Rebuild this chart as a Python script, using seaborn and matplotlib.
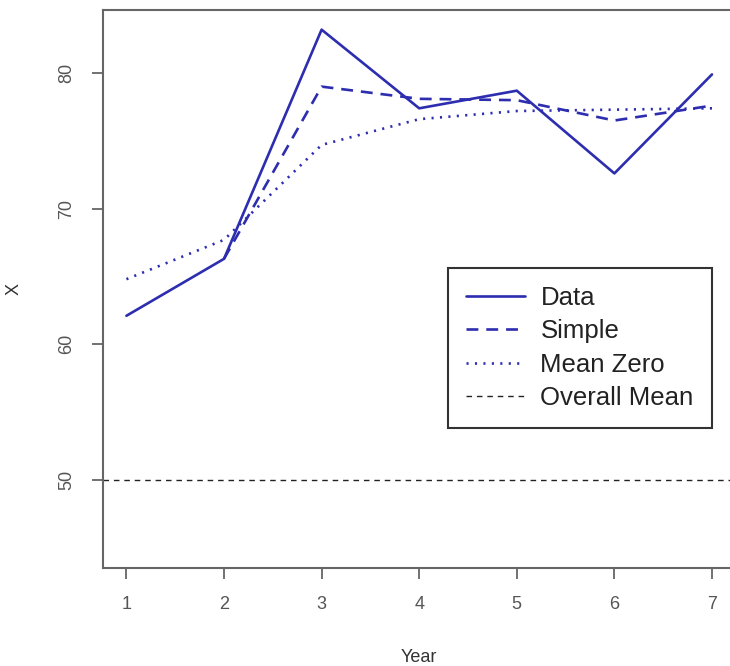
import numpy as np
import pandas as pd
import matplotlib
matplotlib.use("Agg")
import matplotlib.pyplot as plt
import seaborn as sns

# values
year = [1, 2, 3, 4, 5, 6, 7]
data = [62.1, 66.3, 83.2, 77.4, 78.7, 72.6, 79.9]
simple = [np.nan, 66.3, 79.0, 78.1, 78.0, 76.5, 77.6]
mean_zero = [64.8, 67.7, 74.7, 76.6, 77.2, 77.3, 77.4]
overall_mean = 50

df = pd.DataFrame({"Year": year, "Data": data, "Simple": simple, "Mean Zero": mean_zero})

sns.set_style("ticks")
plt.rcParams["font.family"] = ["Liberation Sans", "DejaVu Sans"]

blue = "#2d2db0"
fig = plt.figure(figsize=(7.3, 6.66), dpi=100)
# axes box runs past the right edge, as in the cropped original
ax = fig.add_axes([103 / 730, 98 / 666, 632.4 / 730, 558 / 666])

sns.lineplot(data=df, x="Year", y="Data", ax=ax, color=blue, linewidth=1.9,
             label="Data")
sns.lineplot(data=df, x="Year", y="Simple", ax=ax, color=blue, linewidth=1.9,
             linestyle=(0, (4.5, 3)), label="Simple")
sns.lineplot(data=df, x="Year", y="Mean Zero", ax=ax, color=blue, linewidth=1.9,
             linestyle=(0, (0.8, 2.4)), label="Mean Zero")
ax.axhline(overall_mean, color="#222222", linewidth=1.0, linestyle=(0, (4, 3.5)),
           label="Overall Mean")

ax.set_xlim(0.76, 7.24)
ax.set_ylim(43.5, 84.65)
ax.set_xticks(year)
ax.set_yticks([50, 60, 70, 80])
ax.set_xlabel("Year", fontsize=13, color="#333333", labelpad=26)
ax.set_ylabel("X", fontsize=13, color="#333333", labelpad=26)
ax.tick_params(axis="both", direction="out", length=8, width=1.3,
               bottom=True, left=True, top=False, right=False,
               color="#666666", labelcolor="#555555", labelsize=13, pad=12)
for lab in ax.get_yticklabels():
    lab.set_rotation(90)
    lab.set_va("center")

for side in ["left", "bottom", "top", "right"]:
    ax.spines[side].set_visible(True)
    ax.spines[side].set_color("#666666")
    ax.spines[side].set_linewidth(1.5)

leg = ax.legend(loc="upper left", bbox_to_anchor=(0.5455, 0.5376),
                borderaxespad=0, fontsize=18.5, frameon=True, fancybox=False,
                handlelength=2.3, handletextpad=0.6, labelspacing=0.36,
                borderpad=0.7)
leg.get_frame().set_edgecolor("black")
leg.get_frame().set_linewidth(1.5)
for t in leg.get_texts():
    t.set_color("#222222")

fig.savefig("out.png", dpi=100)
